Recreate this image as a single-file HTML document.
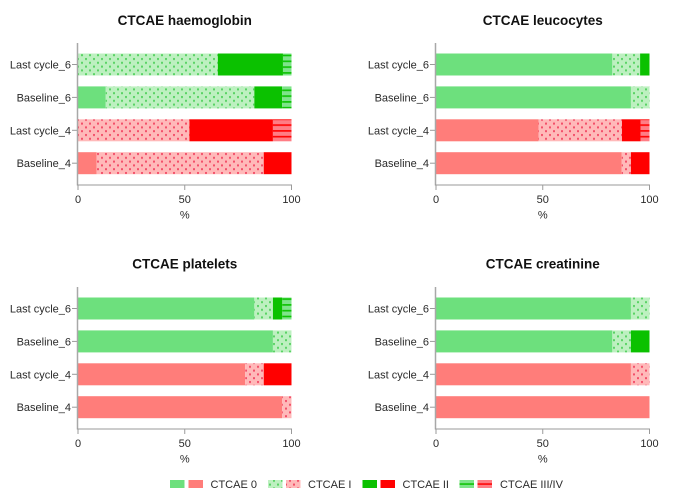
<!DOCTYPE html>
<html lang="en">
<head>
<meta charset="utf-8">
<title>CTCAE stacked bars</title>
<style>
html,body{margin:0;padding:0;background:#fff;width:685px;height:494px;overflow:hidden}
svg{display:block;filter:blur(0.35px)}
text{font-family:"Liberation Sans",Arial,sans-serif;fill:#2a2a2a}
.title{font-size:13.5px;font-weight:bold;fill:#111;text-anchor:middle}
.tick{font-size:11px}
.legend{font-size:11px}
</style>
</head>
<body>
<svg id="chart" width="685" height="494" viewBox="0 0 685 494" xmlns="http://www.w3.org/2000/svg">
<defs>
<pattern id="dot-green" patternUnits="userSpaceOnUse" width="8" height="7.6">
<rect width="8" height="7.6" fill="#bdf0c0"/>
<rect x="1" y="1" width="2" height="2" fill="#5ad365"/>
<rect x="5" y="4.8" width="2" height="2" fill="#5ad365"/>
</pattern>
<pattern id="dot-red" patternUnits="userSpaceOnUse" width="8" height="7.6">
<rect width="8" height="7.6" fill="#ffb9b9"/>
<rect x="1" y="1" width="2" height="2" fill="#f3506a"/>
<rect x="5" y="4.8" width="2" height="2" fill="#f3506a"/>
</pattern>
<pattern id="stripe-green" patternUnits="userSpaceOnUse" width="6" height="5.8">
<rect width="6" height="5.8" fill="#7ee48a"/>
<rect y="2.5" width="6" height="1.6" fill="#0bc100"/>
</pattern>
<pattern id="stripe-red" patternUnits="userSpaceOnUse" width="6" height="5.8">
<rect width="6" height="5.8" fill="#ff7d85"/>
<rect y="2.5" width="6" height="1.6" fill="#ff0000"/>
</pattern>
</defs>
<g id="plots"></g>

<g>
<rect x="170" y="480" width="14.5" height="8" fill="#6de07d"/>
<rect x="188.5" y="480" width="14.5" height="8" fill="#ff7d7a"/>
<text class="legend" x="210.5" y="488">CTCAE 0</text>
<rect x="268" y="480" width="14.5" height="8" fill="url(#dot-green)"/>
<rect x="286" y="480" width="14.5" height="8" fill="url(#dot-red)"/>
<text class="legend" x="308" y="488">CTCAE I</text>
<rect x="362.5" y="480" width="14.5" height="8" fill="#0bc100"/>
<rect x="380.5" y="480" width="14.5" height="8" fill="#ff0000"/>
<text class="legend" x="402.5" y="488">CTCAE II</text>
<rect x="459.5" y="480" width="14.5" height="8" fill="#7ee48a"/>
<rect x="459.5" y="483.3" width="14.5" height="1.5" fill="#0bc100"/>
<rect x="477.5" y="480" width="14.5" height="8" fill="#ff7d85"/>
<rect x="477.5" y="483.3" width="14.5" height="1.5" fill="#ff0000"/>
<text class="legend" x="500" y="488">CTCAE III/IV</text>
</g>
</svg>
<script>
// Categories listed bottom to top
const categories = ['Baseline_4', 'Last cycle_4', 'Baseline_6', 'Last cycle_6'];
const xTicks = [0, 50, 100];
const axisLabel = '%';
const panelTitles = ['CTCAE haemoglobin', 'CTCAE leucocytes', 'CTCAE platelets', 'CTCAE creatinine'];

// Percent per grade, same order as categories
const haemoglobinGrade0 = [8.7, 0, 13, 0];
const haemoglobinGrade1 = [78.3, 52.2, 69.6, 65.5];
const haemoglobinGrade2 = [13, 39.1, 13, 30.5];
const haemoglobinGrade34 = [0, 8.7, 4.4, 4];

const leucocytesGrade0 = [87, 48, 91.3, 82.6];
const leucocytesGrade1 = [4.3, 39.1, 8.7, 13];
const leucocytesGrade2 = [8.7, 8.7, 0, 4.4];
const leucocytesGrade34 = [0, 4.2, 0, 0];

const plateletsGrade0 = [95.6, 78.3, 91.3, 82.6];
const plateletsGrade1 = [4.4, 8.7, 8.7, 8.7];
const plateletsGrade2 = [0, 13, 0, 4.4];
const plateletsGrade34 = [0, 0, 0, 4.3];

const creatinineGrade0 = [100, 91.3, 82.6, 91.3];
const creatinineGrade1 = [0, 8.7, 8.7, 8.7];
const creatinineGrade2 = [0, 0, 8.7, 0];
const creatinineGrade34 = [0, 0, 0, 0];

const panelSeries = [
  [haemoglobinGrade0, haemoglobinGrade1, haemoglobinGrade2, haemoglobinGrade34],
  [leucocytesGrade0, leucocytesGrade1, leucocytesGrade2, leucocytesGrade34],
  [plateletsGrade0, plateletsGrade1, plateletsGrade2, plateletsGrade34],
  [creatinineGrade0, creatinineGrade1, creatinineGrade2, creatinineGrade34]
];

const NS = 'http://www.w3.org/2000/svg';
const root = document.getElementById('plots');
const panelLeft = [78, 436, 78, 436];
const panelTop = [43, 43, 287, 287];
const titleBaseline = [25, 25, 268.5, 268.5];
const plotWidth = 213.5;
const plotHeight = 142;
const bandStep = 32.9;
const bandInset = 10.5;
const barHeight = 22;
const gradeNames = ['grade-0', 'grade-1', 'grade-2', 'grade-3-4'];
const greenFills = ['#6de07d', 'url(#dot-green)', '#0bc100', 'url(#stripe-green)'];
const redFills = ['#ff7d7a', 'url(#dot-red)', '#ff0000', 'url(#stripe-red)'];

function make(tag, attrs, parent) {
  const el = document.createElementNS(NS, tag);
  for (const k in attrs) el.setAttribute(k, attrs[k]);
  parent.appendChild(el);
  return el;
}

panelTitles.forEach(function (title, p) {
  const left = panelLeft[p];
  const top = panelTop[p];
  const xScale = function (v) { return left + v / 100 * plotWidth; };
  const yScale = function (i) { return top + bandInset + (categories.length - 1 - i) * bandStep; };
  const g = make('g', {}, root);
  
  

  const titleEl = make('text', { x: left + plotWidth / 2, y: titleBaseline[p], 'class': 'title' }, g);
  titleEl.textContent = title;
  
  

  categories.forEach(function (cat, i) {
    let acc = 0;
    panelSeries[p].forEach(function (series, s) {
      const v = series[i];
      if (v > 0) {
        const fills = i < 2 ? redFills : greenFills;
        const bar = make('rect', {
          x: xScale(acc), y: yScale(i), width: xScale(acc + v) - xScale(acc),
          height: barHeight, fill: fills[s]
        }, g);
        
        
      }
      acc += v;
    });
    const cy = yScale(i) + barHeight / 2;
    const tick = make('line', { x1: left - 6, x2: left, y1: cy, y2: cy, stroke: '#9a9a9a', 'stroke-width': 1 }, g);
    
    
    const label = make('text', { x: left - 7, y: cy + 4, 'class': 'tick', 'text-anchor': 'end' }, g);
    label.textContent = cat;
    
    
  });

  const yAxis = make('line', { x1: left - 0.5, x2: left - 0.5, y1: top, y2: top + plotHeight + 0.5, stroke: '#a8a8a8', 'stroke-width': 1.5 }, g);
  
  
  const xAxis = make('line', { x1: left - 1, x2: left + plotWidth + 0.5, y1: top + plotHeight, y2: top + plotHeight, stroke: '#9a9a9a', 'stroke-width': 1 }, g);
  
  

  xTicks.forEach(function (t) {
    const tk = make('line', { x1: xScale(t), x2: xScale(t), y1: top + plotHeight, y2: top + plotHeight + 5, stroke: '#9a9a9a', 'stroke-width': 1 }, g);
    
    
    const lb = make('text', { x: xScale(t), y: top + plotHeight + 18, 'class': 'tick', 'text-anchor': 'middle' }, g);
    lb.textContent = t;
    
    
  });

  const xTitle = make('text', { x: left + plotWidth / 2, y: top + plotHeight + 33.5, 'class': 'tick', 'text-anchor': 'middle' }, g);
  xTitle.textContent = axisLabel;
  
  
});
</script>
</body>
</html>
